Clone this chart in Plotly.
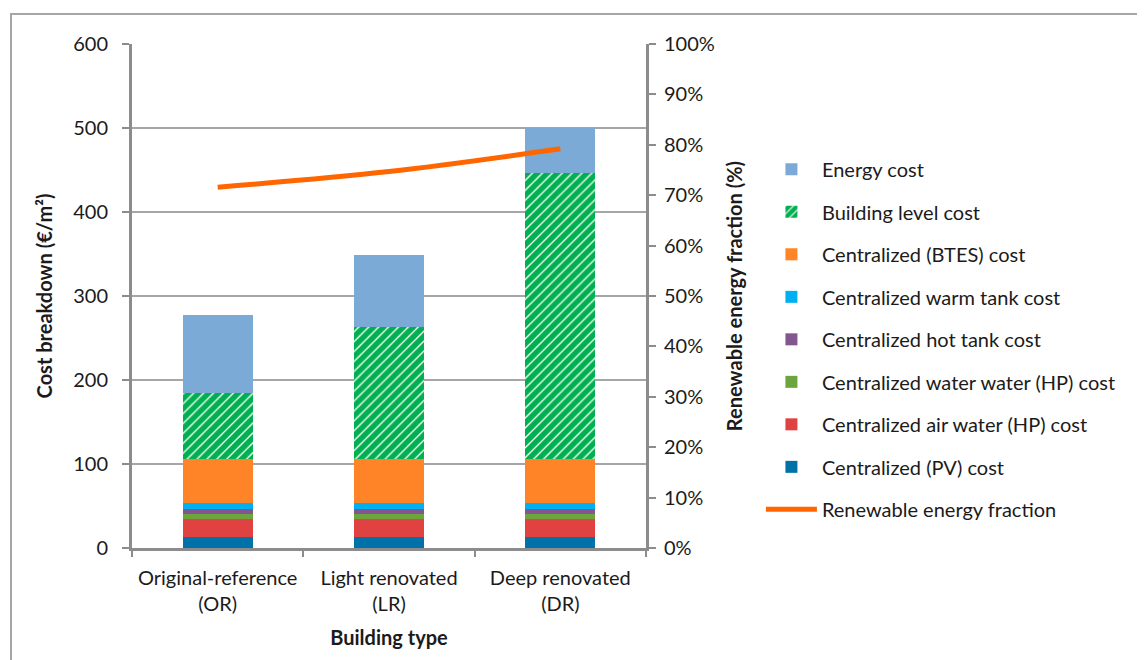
import plotly.graph_objects as go

categories = ["Original-reference<br>(OR)", "Light renovated<br>(LR)", "Deep renovated<br>(DR)"]

pv_cost = [13, 13, 13]
air_water_hp_cost = [21, 21, 21]
water_water_hp_cost = [7, 7, 7]
hot_tank_cost = [5, 5, 5]
warm_tank_cost = [7, 7, 7]
btes_cost = [53, 53, 53]
building_level_cost = [78, 157, 340]
energy_cost = [93, 86, 54]
renewable_fraction = [0.716, 0.747, 0.792]

series = [
    ("Centralized (PV) cost", pv_cost, "#0071A9"),
    ("Centralized air water (HP) cost", air_water_hp_cost, "#E04141"),
    ("Centralized water water (HP) cost", water_water_hp_cost, "#6CA43E"),
    ("Centralized hot tank cost", hot_tank_cost, "#83568F"),
    ("Centralized warm tank cost", warm_tank_cost, "#00B0F0"),
    ("Centralized (BTES) cost", btes_cost, "#FF8427"),
    ("Building level cost", building_level_cost, None),
    ("Energy cost", energy_cost, "#7AAAD5"),
]

FONT = "Lato"
FS = 20
TXT = "#1b1b1b"
AXC = "#8c8c8c"

fig = go.Figure()
n = len(series)
for i, (name, vals, col) in enumerate(series):
    if col is None:
        marker = dict(color="white",
                      pattern=dict(shape="/", fgcolor="#00B050", bgcolor="white",
                                   fgopacity=1, size=7, solidity=0.82),
                      line=dict(width=0))
    else:
        marker = dict(color=col, line=dict(width=0))
    fig.add_trace(go.Bar(x=categories, y=vals, name=name, marker=marker,
                         legendrank=100 + (n - i) * 10, legendgroup=name))

fig.add_trace(go.Scatter(x=categories, y=renewable_fraction, name="Renewable energy fraction",
                         mode="lines", line=dict(color="#FF6600", width=5, shape="spline"),
                         yaxis="y2", legendrank=500, legendgroup="ref"))

fig.update_layout(
    width=1137, height=652,
    margin=dict(l=124, r=499, t=36, b=112, autoexpand=False),
    paper_bgcolor="white", plot_bgcolor="white",
    barmode="stack", bargap=0.59,
    font=dict(family=FONT, size=FS, color=TXT),
    showlegend=True,
    legend=dict(x=1.2236, xanchor="left", y=0.79, yanchor="top",
                traceorder="grouped", tracegroupgap=13.5, itemwidth=51,
                font=dict(family=FONT, size=FS, color=TXT),
                bgcolor="rgba(0,0,0,0)"),
    xaxis=dict(showline=True, linecolor=AXC, linewidth=3, ticks="outside",
               tickson="boundaries", ticklen=6, tickwidth=2, tickcolor=AXC,
               ticklabelstandoff=10,
               tickfont=dict(size=FS, color=TXT),
               title=dict(text="Building type", font=dict(size=FS, weight="bold", color=TXT),
                          standoff=17)),
    yaxis=dict(range=[0, 600], dtick=100, showline=True, linecolor=AXC, linewidth=3,
               ticks="outside", ticklen=7, tickwidth=2, tickcolor=AXC,
               ticklabelstandoff=10,
               showgrid=True, gridcolor="#a6a6a6", gridwidth=2, zeroline=False,
               tickfont=dict(size=FS, color=TXT),
               title=dict(text="Cost breakdown (€/m²)", font=dict(size=FS, weight="bold", color=TXT),
                          standoff=16)),
    yaxis2=dict(range=[0, 1], dtick=0.1, tickformat=".0%", overlaying="y", side="right",
                showline=True, linecolor=AXC, linewidth=3, ticks="outside", ticklen=7,
                tickwidth=2, tickcolor=AXC, showgrid=False, zeroline=False,
                ticklabelstandoff=4,
                tickfont=dict(size=FS, color=TXT),
                title=dict(text="Renewable energy fraction (%)",
                           font=dict(size=FS, weight="bold", color=TXT), standoff=15)),
)

fig.add_shape(type="rect", xref="paper", yref="paper",
              x0=-0.2354, x1=2.0, y0=-0.25, y1=1.0595,
              line=dict(color="#a6a6a6", width=2), fillcolor="rgba(0,0,0,0)", layer="below")

fig.write_html("out.html")
